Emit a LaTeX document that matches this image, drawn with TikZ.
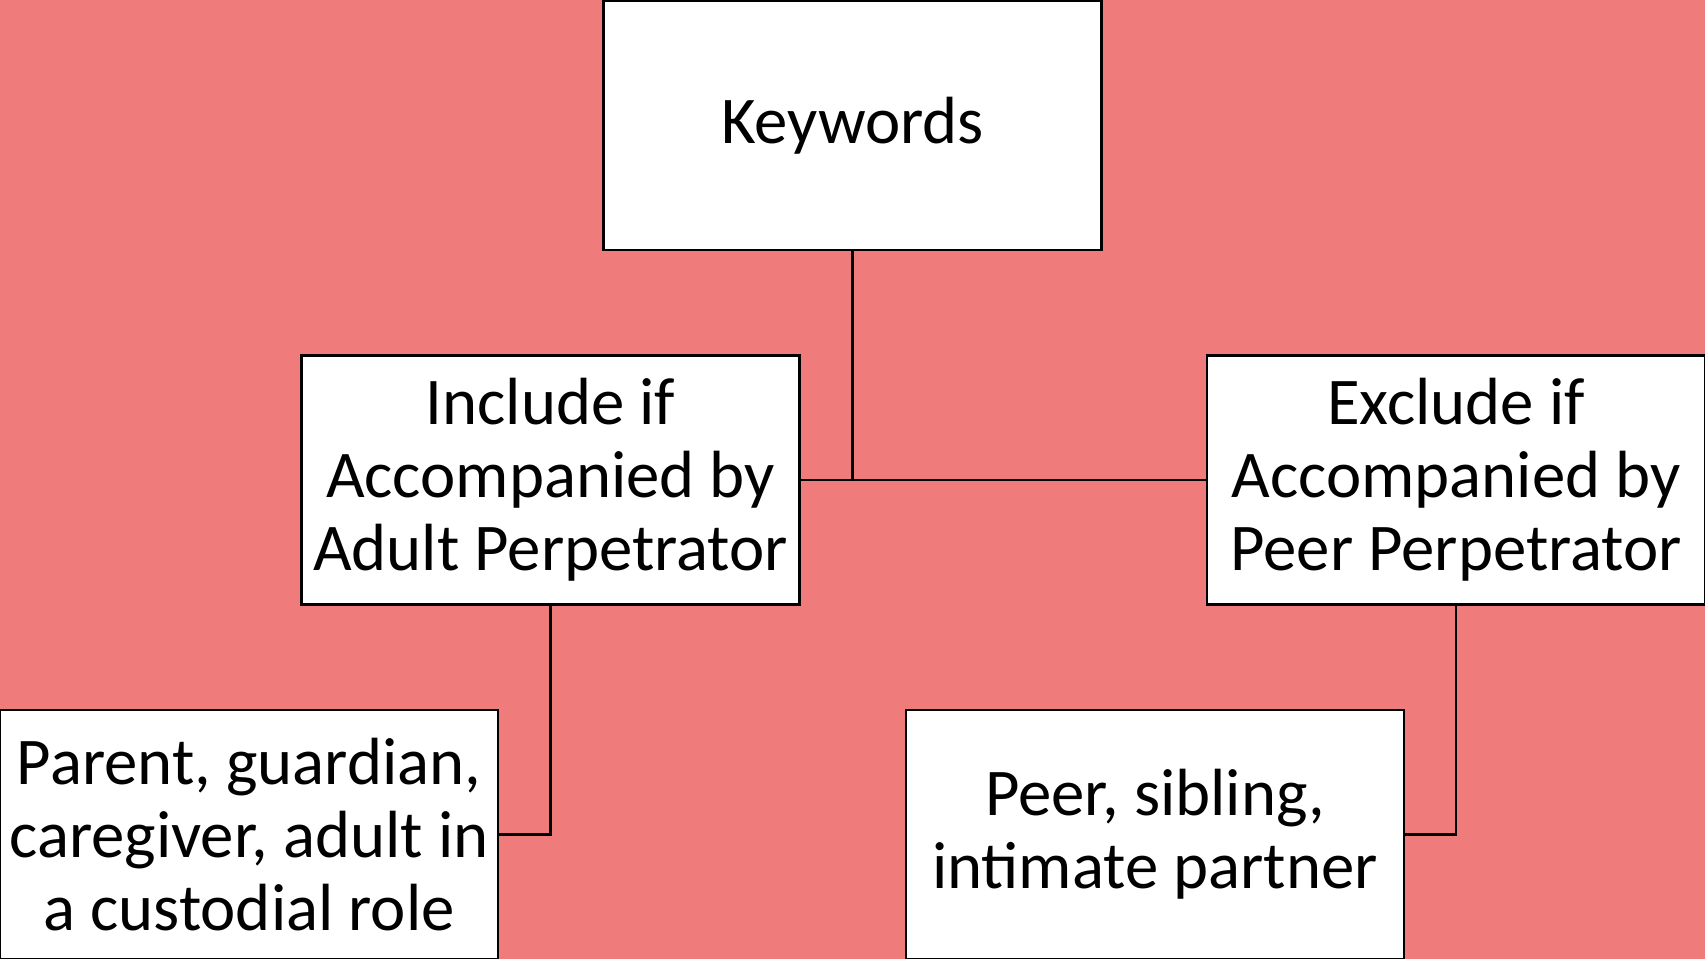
\documentclass[tikz,border=0pt]{standalone}
\usepackage{fontspec}
\setmainfont{Carlito}
\usetikzlibrary{positioning}
\definecolor{salmonbg}{RGB}{240,123,123}
\tikzset {
  % box of the keyword tree
  kwbox/.style = {
    draw = black,
    fill = white,
    line width = 1.6pt,
    rectangle,
    minimum width = 9.96cm,
    minimum height = 4.98cm,
    inner sep = 0,
    align = center,
    font = \fontsize{38}{41.6}\selectfont
  },
  % plain connector
  link/.style = {
    draw = black,
    line width = 1.5pt
  }
}

\begin{document}
\begin{tikzpicture}[x=0.02cm, y=-0.02cm]
    \fill[salmonbg] (0,0) rectangle (1705,959);
    \useasboundingbox (0,0) rectangle (1705,959);

    \node[kwbox] (keywords) at (852.5,125.5) {Keywords};
    \node[kwbox] (include) at (550.5,480) {Include if\\Accompanied by\\Adult Perpetrator};
    \node[kwbox] (exclude) at (1456,480) {Exclude if\\Accompanied by\\Peer Perpetrator};
    \node[kwbox] (parent) at (249,834.5) {Parent, guardian,\\caregiver, adult in\\a custodial role};
    \node[kwbox] (peer) at (1155,834.5) {Peer, sibling,\\intimate partner};

    \draw[link] (keywords.south) -- (keywords.south |- include.east);
    \draw[link] (include.east) -- (exclude.west);
    \draw[link] (include.south) |- (parent.east);
    \draw[link] (exclude.south) |- (peer.east);
\end{tikzpicture}
\end{document}
